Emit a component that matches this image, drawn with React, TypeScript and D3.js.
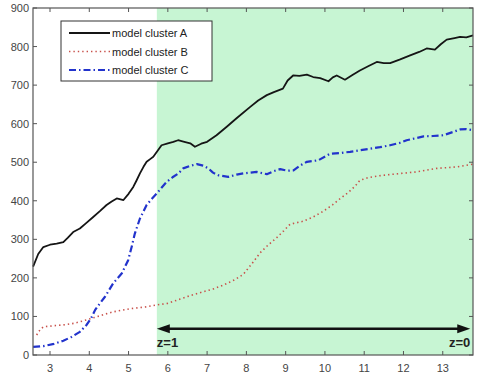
import React from "react";
import * as d3 from "d3";

// values (x = redshift-ish axis, y = count)
const clusterA: [number, number][] = [
  [2.57, 229], [2.7, 262], [2.83, 280], [3.0, 286], [3.17, 289], [3.34, 293],
  [3.45, 304], [3.59, 319], [3.76, 328], [3.92, 342], [4.1, 358], [4.27, 373],
  [4.44, 389], [4.57, 398], [4.7, 406], [4.87, 402], [5.0, 418], [5.12, 436],
  [5.2, 452], [5.29, 471], [5.38, 488], [5.46, 501], [5.55, 508], [5.63, 514],
  [5.74, 530], [5.84, 544], [6.0, 549], [6.14, 553], [6.26, 557], [6.42, 553],
  [6.57, 549], [6.69, 540], [6.85, 548], [7.0, 553], [7.24, 570], [7.5, 592],
  [7.75, 614], [8.09, 643], [8.3, 660], [8.52, 674], [8.7, 682], [8.93, 691],
  [9.05, 712], [9.19, 725], [9.35, 724], [9.54, 727], [9.7, 721], [9.88, 718],
  [10.09, 710], [10.2, 720], [10.3, 725], [10.51, 714], [10.7, 726], [10.89, 738],
  [11.1, 749], [11.32, 760], [11.5, 757], [11.66, 757], [11.9, 766], [12.17, 777],
  [12.4, 786], [12.59, 795], [12.8, 792], [12.95, 806], [13.1, 818], [13.3, 822],
  [13.44, 825], [13.6, 824], [13.77, 829],
];

const clusterB: [number, number][] = [
  [2.66, 52], [2.75, 66], [2.83, 73], [3.1, 76], [3.34, 78], [3.6, 82],
  [3.76, 86], [4.19, 99], [4.4, 106], [4.61, 112], [5.04, 120], [5.46, 125],
  [5.72, 130], [6.0, 134], [6.31, 145], [6.6, 155], [6.9, 164], [7.15, 171],
  [7.41, 181], [7.7, 195], [7.92, 209], [8.15, 238], [8.35, 265], [8.55, 285],
  [8.77, 304], [8.95, 322], [9.11, 339], [9.45, 347], [9.7, 358], [9.96, 373],
  [10.2, 390], [10.38, 405], [10.6, 422], [10.77, 438], [10.89, 453],
  [11.1, 460], [11.32, 464], [11.74, 469], [12.34, 475], [12.85, 484],
  [13.36, 488], [13.77, 495],
];

const clusterC: [number, number][] = [
  [2.57, 21], [2.83, 23], [3.1, 29], [3.34, 37], [3.55, 47], [3.76, 60],
  [3.93, 78], [4.05, 96], [4.15, 117], [4.27, 134], [4.4, 151], [4.61, 186],
  [4.83, 212], [4.99, 246], [5.08, 281], [5.16, 315], [5.29, 354], [5.46, 389],
  [5.6, 406], [5.72, 419], [5.85, 435], [5.97, 449], [6.12, 461], [6.27, 471],
  [6.39, 484], [6.55, 490], [6.74, 495], [6.9, 491], [7.03, 484],
  [7.15, 473], [7.29, 466], [7.54, 462], [7.75, 468], [7.92, 471], [8.1, 473],
  [8.26, 475], [8.52, 469], [8.7, 477], [8.86, 482], [9.05, 478], [9.2, 479],
  [9.38, 492], [9.54, 501], [9.83, 505], [10.13, 522], [10.4, 524], [10.64, 527],
  [10.9, 531], [11.15, 535], [11.4, 539], [11.66, 544], [11.9, 550], [12.08, 557],
  [12.3, 562], [12.51, 567], [12.75, 568], [13.02, 570], [13.25, 578], [13.44, 585],
  [13.6, 586], [13.77, 583],
];

const xTicks = [3, 4, 5, 6, 7, 8, 9, 10, 11, 12, 13];
const yTicks = [0, 100, 200, 300, 400, 500, 600, 700, 800, 900];
const legendLabels = ["model cluster A", "model cluster B", "model cluster C"];
const shadeFrom = 5.72;
const arrowY = 68;
const arrowFrom = 5.72;
const arrowTo = 13.7;

const W = 480;
const H = 376;

export default function App() {
  const left = 33, right = 473, top = 8, bottom = 355;
  const x = d3.scaleLinear().domain([2.567, 13.77]).range([left, right]);
  const y = d3.scaleLinear().domain([0, 900]).range([bottom, top]);
  const line = d3
    .line<[number, number]>()
    .x((d) => x(d[0]))
    .y((d) => y(d[1]));

  const series = [
    { data: clusterA, stroke: "#151515", width: 1.8, dash: undefined as string | undefined },
    { data: clusterB, stroke: "#c8504a", width: 1.6, dash: "1.4 3" },
    { data: clusterC, stroke: "#2233cc", width: 2.2, dash: "7 3 1.5 3" },
  ];

  const ay = y(arrowY);
  const ax0 = x(arrowFrom);
  const ax1 = x(arrowTo);
  const font = "'Liberation Sans', Arial, sans-serif";

  return (
    <svg width={W} height={H} style={{ position: "absolute", left: 0, top: 0 }}>
      <rect x={0} y={0} width={W} height={H} fill="#fff" />
      <rect
        x={x(shadeFrom)}
        y={top}
        width={right - x(shadeFrom)}
        height={bottom - top}
        fill="#c7f5d3"
      />

      {series.map((s, i) => (
        <path
          key={i}
          d={line(s.data) || ""}
          fill="none"
          stroke={s.stroke}
          strokeWidth={s.width}
          strokeDasharray={s.dash}
          strokeLinejoin="round"
        />
      ))}

      {/* double arrow z=1 -> z=0 */}
      <line x1={ax0 + 10} x2={ax1 - 10} y1={ay} y2={ay} stroke="#111" strokeWidth={2.4} />
      <path d={`M${ax0},${ay} L${ax0 + 13},${ay - 4.5} L${ax0 + 13},${ay + 4.5} Z`} fill="#111" />
      <path d={`M${ax1},${ay} L${ax1 - 13},${ay - 4.5} L${ax1 - 13},${ay + 4.5} Z`} fill="#111" />
      <text x={ax0} y={347} fontFamily={font} fontWeight="bold" fontSize={13} fill="#222">
        z=1
      </text>
      <text x={ax1} y={347} fontFamily={font} fontWeight="bold" fontSize={13} fill="#222" textAnchor="end">
        z=0
      </text>

      {/* box and ticks */}
      <rect x={left} y={top} width={right - left} height={bottom - top} fill="none" stroke="#555" strokeWidth={1.2} />
      {xTicks.map((t) => (
        <g key={"x" + t}>
          <line x1={x(t)} x2={x(t)} y1={bottom} y2={bottom - 4} stroke="#555" />
          <line x1={x(t)} x2={x(t)} y1={top} y2={top + 4} stroke="#555" />
          <text x={x(t)} y={372} textAnchor="middle" fontFamily={font} fontSize={11} fill="#444">
            {t}
          </text>
        </g>
      ))}
      {yTicks.map((t) => (
        <g key={"y" + t}>
          <line x1={left} x2={left + 4} y1={y(t)} y2={y(t)} stroke="#555" />
          <line x1={right} x2={right - 4} y1={y(t)} y2={y(t)} stroke="#555" />
          <text x={29} y={y(t) + 4} textAnchor="end" fontFamily={font} fontSize={11} fill="#444">
            {t}
          </text>
        </g>
      ))}

      {/* legend */}
      <rect x={61} y={21} width={151} height={60} fill="#fff" stroke="#333" strokeWidth={1} />
      {legendLabels.map((lab, i) => {
        const ly = 33 + i * 18.5;
        const s = series[i];
        return (
          <g key={lab}>
            <line x1={69} x2={110} y1={ly} y2={ly} stroke={s.stroke} strokeWidth={s.width} strokeDasharray={s.dash} />
            <text x={112} y={ly + 4} fontFamily={font} fontSize={11} fill="#222">
              {lab}
            </text>
          </g>
        );
      })}
    </svg>
  );
}
